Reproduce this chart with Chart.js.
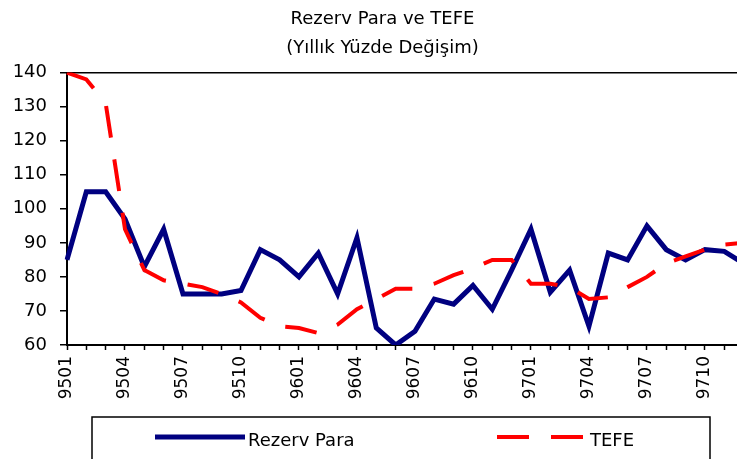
<!DOCTYPE html>
<html>
<head>
<meta charset="utf-8">
<script src="https://cdn.jsdelivr.net/npm/chart.js@4/dist/chart.umd.min.js"></script>
<style>
  html, body { margin: 0; padding: 0; background: #fff; overflow: hidden; }
</style>
</head>
<body>
<canvas id="myChart" width="770" height="459"></canvas>
<script>
// months shown as yymm, Jan 1995 .. Dec 1997
var months = ['9501','9502','9503','9504','9505','9506','9507','9508','9509','9510','9511','9512',
              '9601','9602','9603','9604','9605','9606','9607','9608','9609','9610','9611','9612',
              '9701','9702','9703','9704','9705','9706','9707','9708','9709','9710','9711','9712'];

var rezervPara = [85, 105, 105, 97, 83, 94, 75, 75, 75, 76, 88, 85,
                  80, 87, 75, 91.5, 65, 60, 64, 73.5, 72, 77.5, 70.5, 82,
                  94, 75.5, 82, 65.5, 87, 85, 95, 88, 85, 88, 87.5, 84];

var tefe = [140, 138, 131, 94, 82, 79, 78, 77, 75, 72.5, 68, 65.5,
            65, 63.5, 66, 70.5, 73.5, 76.5, 76.5, 78, 80.5, 82.5, 85, 85,
            78, 78, 77, 73.5, 74, 77, 80, 84, 86, 88, 89.5, 90];

var titleLines = ['Rezerv Para ve TEFE', '(Yıllık Yüzde Değişim)'];
var yMin = 60, yMax = 140, yStep = 10;

var fontName = '"DejaVu Sans", Verdana, sans-serif';

// excel style legend: wide box under the axis labels
var legendBox = {
  id: 'legendBox',
  afterDraw: function(chart) {
    var ctx = chart.ctx;
    var ds = chart.data.datasets;
    ctx.save();
    ctx.strokeStyle = '#000';
    ctx.lineWidth = 1.5;
    ctx.strokeRect(92, 417, 618, 70);

    var rows = [{x: 155, d: ds[0]}, {x: 497, d: ds[1]}];
    rows.forEach(function(r) {
      ctx.beginPath();
      ctx.strokeStyle = r.d.borderColor;
      ctx.lineWidth = r.d.borderWidth;
      ctx.setLineDash(r.d.borderDash || []);
      ctx.moveTo(r.x, 437);
      ctx.lineTo(r.x + 90, 437);
      ctx.stroke();
      ctx.setLineDash([]);
      ctx.fillStyle = '#000';
      ctx.font = '18px ' + fontName;
      ctx.textBaseline = 'middle';
      ctx.fillText(r.d.label, r.x + 93, 441);
    });
    ctx.restore();
  }
};

var ctx = document.getElementById('myChart').getContext('2d');
var myChart = new Chart(ctx, {
  type: 'line',
  data: {
    labels: months,
    datasets: [{
      label: 'Rezerv Para',
      data: rezervPara,
      borderColor: '#000080',
      borderWidth: 5,
      pointRadius: 0,
      tension: 0,
      order: 2
    }, {
      label: 'TEFE',
      data: tefe,
      borderColor: '#ff0000',
      borderWidth: 4,
      borderDash: [32, 22],
      pointRadius: 0,
      tension: 0,
      order: 1
    }]
  },
  options: {
    responsive: false,
    animation: false,
    layout: { padding: { top: 0, right: 5, bottom: 54, left: 0 } },
    plugins: {
      legend: { display: false },
      tooltip: { enabled: false },
      title: {
        display: true,
        text: titleLines,
        color: '#000',
        font: { family: fontName, size: 18, weight: 'normal', lineHeight: 1.6 },
        padding: { top: 5, bottom: 10 }
      }
    },
    scales: {
      x: {
        afterFit: function(scale) { scale.height = 60; },
        border: { color: '#000', width: 2 },
        grid: { drawOnChartArea: false, drawTicks: true, tickLength: 5, tickColor: '#000', tickWidth: 1.5 },
        ticks: {
          autoSkip: false,
          maxRotation: 90,
          minRotation: 90,
          padding: 6,
          color: '#000',
          font: { family: fontName, size: 17 },
          callback: function(val, i) { return i % 3 === 0 ? this.getLabelForValue(val) : ''; }
        }
      },
      y: {
        min: yMin,
        max: yMax,
        afterFit: function(scale) { scale.width = 67; },
        border: { color: '#000', width: 2 },
        grid: {
          color: function(c) { return c.tick && c.tick.value === yMax ? '#000' : 'rgba(0,0,0,0)'; },
          lineWidth: 1.5,
          tickLength: 7,
          tickColor: '#000',
          tickWidth: 1.5
        },
        ticks: {
          stepSize: yStep,
          padding: 13,
          color: '#000',
          font: { family: fontName, size: 18 }
        }
      }
    }
  },
  plugins: [legendBox]
});
</script>
</body>
</html>
